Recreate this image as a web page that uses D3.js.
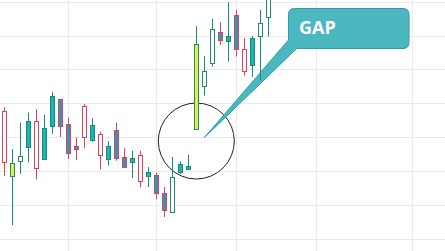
<!DOCTYPE html>
<html>
<head>
<meta charset="utf-8">
<script src="https://cdn.jsdelivr.net/npm/d3@7"></script>
<style>
html,body{margin:0;padding:0;background:#fff;overflow:hidden}
svg{display:block}
</style>
</head>
<body>
<svg id="chart" width="445" height="251"></svg>
<script>
// ---- data ----
const opens  = [102.28,102.23,102.29,103.48,102.10,103.27,104.22,104.13,103.38,102.74,
                103.00,103.35,102.47,102.74,103.21,102.41,102.39,101.70,101.98,101.88,
                101.35,100.80,102.20,102.15,105.74,104.53,105.18,106.12,105.99,106.61,
                104.96,105.92,105.98,106.55];
const highs  = [103.89,102.65,103.43,103.73,103.83,103.66,104.34,104.14,103.59,103.00,
                103.98,103.56,103.17,102.89,103.43,102.68,102.60,102.60,102.12,101.96,
                101.53,102.42,102.29,102.48,106.28,105.40,106.49,106.39,106.98,106.76,
                105.92,105.99,106.76,107.49];
const lows   = [101.86,100.41,101.91,102.26,101.76,102.36,103.10,103.01,102.36,102.33,
                102.68,102.87,102.06,102.17,102.31,102.11,101.79,101.53,101.53,101.17,
                100.65,100.77,101.92,102.04,103.23,104.23,105.08,105.72,105.23,105.38,
                104.82,104.78,104.68,105.97];
const closes = [103.78,101.84,102.44,102.72,103.48,102.37,103.34,103.34,102.53,102.65,
                103.92,102.90,103.10,102.35,102.37,102.12,102.26,102.47,101.85,101.35,
                100.84,101.82,101.96,102.06,103.24,104.96,106.19,105.89,105.83,105.60,
                105.60,105.11,106.36,107.29];
// momentum sign of each session: "up" / "down"
const momentum = ["down","up","up","up","down","up","up","down","down","down",
                  "down","up","down","up","down","down","up","down","up","down",
                  "down","up","up","up","up","up","up","down","up","down",
                  "down","up","up","up"];
const gapSessions   = [1, 24];
const priceTicks    = [100,101,102,103,104,105,106,107];
const sessionTicks  = [8,19,29,39,51];
const calloutLabel  = "GAP";
const gapFocus      = {session: 24, price: 102.89};
const calloutTip    = {session: 25, price: 102.99};

// ---- drawing ----
const W = 445, H = 251;
const svg = d3.select("#chart");
const x = d3.scaleLinear().domain([0, 55]).range([4.3, 444.3]);
const y = d3.scaleLinear().domain([100, 107]).range([239, 1.7]);
const snap = v => Math.round(v) + 0.5;

const colors = {
  up: "#1b8c70", down: "#d9435c",
  fillUp: "#19b2bd", fillDown: "#3597b8",
  yellow: "#e4ee4c", grid: "#ebebeb"
};

// grid
const grid = svg.append("g");
grid.selectAll("line.h").data(priceTicks).join("line")
  .attr("x1", 0).attr("x2", W)
  .attr("y1", d => snap(y(d))).attr("y2", d => snap(y(d)))
  .attr("stroke", colors.grid).attr("stroke-width", 1);
grid.selectAll("line.v").data(sessionTicks).join("line")
  .attr("y1", 0).attr("y2", H)
  .attr("x1", d => snap(x(d))).attr("x2", d => snap(x(d)))
  .attr("stroke", colors.grid).attr("stroke-width", 1);

// annotations
const ann = svg.append("g");
ann.append("circle")
  .attr("cx", x(gapFocus.session)).attr("cy", y(gapFocus.price)).attr("r", 38)
  .attr("fill", "none").attr("stroke", "#222").attr("stroke-width", 1);

const bx0 = 288.5, by0 = 8.5, bx1 = 409, by1 = 48.5, r = 6;
const tx = x(calloutTip.session), ty = y(calloutTip.price);
const p = d3.path();
p.moveTo(tx, ty);
p.lineTo(bx0, 40);
p.lineTo(bx0, by0 + r);
p.quadraticCurveTo(bx0, by0, bx0 + r, by0);
p.lineTo(bx1 - r, by0);
p.quadraticCurveTo(bx1, by0, bx1, by0 + r);
p.lineTo(bx1, by1 - r);
p.quadraticCurveTo(bx1, by1, bx1 - r, by1);
p.lineTo(296.7, by1);
p.closePath();
ann.append("path").attr("d", p.toString())
  .attr("fill", "#4ab7c1").attr("stroke", "#2b9ea7").attr("stroke-width", 1)
  .attr("stroke-linejoin", "round");
ann.append("text").attr("x", 299).attr("y", 33.5)
  .attr("fill", "#fff").attr("font-family", "'Open Sans', sans-serif")
  .attr("font-weight", 700).attr("font-size", 18)
  .text(calloutLabel);

// candles
const idx = d3.range(opens.length);
const cg = svg.append("g");
const candle = cg.selectAll("g").data(idx).join("g");
candle.append("line")
  .attr("x1", i => snap(x(i))).attr("x2", i => snap(x(i)))
  .attr("y1", i => y(highs[i])).attr("y2", i => y(lows[i]))
  .attr("stroke", i => colors[momentum[i]]).attr("stroke-width", 1);
candle.append("rect")
  .attr("x", i => snap(x(i)) - 2)
  .attr("width", 4)
  .attr("y", i => snap(y(Math.max(opens[i], closes[i]))))
  .attr("height", i => Math.max(1, Math.round(Math.abs(y(opens[i]) - y(closes[i])))))
  .attr("fill", i => gapSessions.includes(i) ? colors.yellow
        : (closes[i] > opens[i] ? "#fff"
        : (momentum[i] === "up" ? colors.fillUp : colors.fillDown)))
  .attr("stroke", i => colors[momentum[i]]).attr("stroke-width", 1);
</script>
</body>
</html>
